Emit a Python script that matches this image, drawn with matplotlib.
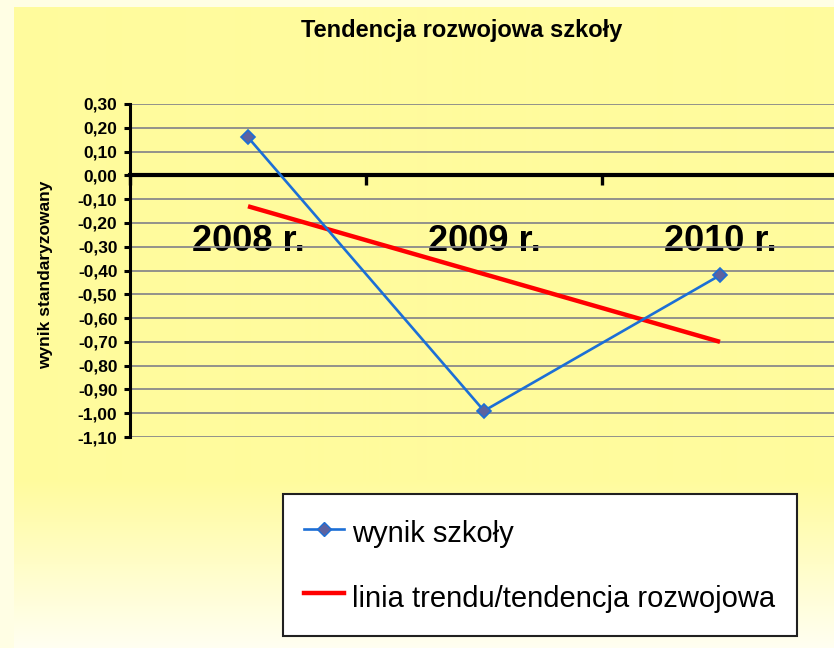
import matplotlib

matplotlib.use("Agg")
import matplotlib.pyplot as plt
import matplotlib.ticker as ticker
import numpy as np
from matplotlib.colors import to_rgb
from matplotlib.lines import Line2D

# ── Data ────────────────────────────────────────────────────────────────────
YEARS = ["2008 r.", "2009 r.", "2010 r."]
SCHOOL_SCORE = [0.16, -0.99, -0.42]
TREND_VALUES = [-0.13, -0.415, -0.70]
Y_TICKS = [0.30, 0.20, 0.10, 0.00, -0.10, -0.20, -0.30, -0.40, -0.50,
           -0.60, -0.70, -0.80, -0.90, -1.00, -1.10]

TITLE = "Tendencja rozwojowa szkoły"
Y_LABEL = "wynik standaryzowany"
LABEL_SCORE = "wynik szkoły"
LABEL_TREND = "linia trendu/tendencja rozwojowa"

# ── Style ───────────────────────────────────────────────────────────────────
BG_OUTER = "#FFFEE4"
BG_YELLOW = "#FFFB9D"
BG_PALE = "#FFFFF2"
COLOR_LINE = "#1C6FD6"
COLOR_MARKER = "#5C62A0"
COLOR_TREND = "#FF0000"
COLOR_GRID = "#8A8A8A"

W, H = 834, 648

plt.rcParams["font.family"] = ["Liberation Sans", "DejaVu Sans"]


def fmt_pl(v, _pos=None):
    v = round(v, 2)
    if v == 0:
        v = 0.0
    return f"{v:.2f}".replace(".", ",")


def main() -> None:
    fig = plt.figure(figsize=(W / 100, H / 100), dpi=100, facecolor=BG_OUTER)

    # chart-area background: yellow fading to pale at the bottom
    bg = fig.add_axes([14 / W, 0, 1 - 14 / W, 1 - 7 / H], zorder=0)
    rows = np.arange(H - 7)
    t = np.clip((rows + 7 - 480) / (H - 480), 0, 1)
    c0, c1 = np.array(to_rgb(BG_YELLOW)), np.array(to_rgb(BG_PALE))
    grad = c0[None, :] * (1 - t[:, None]) + c1[None, :] * t[:, None]
    bg.imshow(grad[:, None, :], aspect="auto", interpolation="bilinear")
    bg.set_axis_off()

    ax = fig.add_axes([130 / W, 1 - 437 / H, 708 / W, 333 / H], zorder=1)
    ax.set_facecolor("none")

    x = np.arange(len(YEARS))
    ax.plot(x, SCHOOL_SCORE, color=COLOR_LINE, linewidth=1.9, marker="D",
            markersize=7.5, markerfacecolor=COLOR_MARKER,
            markeredgecolor=COLOR_LINE, markeredgewidth=1.2, zorder=4,
            clip_on=False)
    ax.plot(x, TREND_VALUES, color=COLOR_TREND, linewidth=3.2, zorder=3,
            solid_capstyle="butt")

    ax.set_xlim(-0.5, 2.5)
    ax.set_ylim(-1.10, 0.30)
    ax.set_yticks(Y_TICKS)
    ax.yaxis.set_major_formatter(ticker.FuncFormatter(fmt_pl))
    ax.grid(True, axis="y", color=COLOR_GRID, linewidth=1.3, zorder=1)
    ax.set_axisbelow(True)

    for side in ("top", "right"):
        ax.spines[side].set_visible(False)
    ax.spines["left"].set_linewidth(2.2)
    ax.spines["bottom"].set_position(("data", 0))
    ax.spines["bottom"].set_linewidth(3.0)
    ax.spines["bottom"].set_zorder(2)

    ax.tick_params(axis="y", direction="out", length=4, width=2.2,
                   labelsize=12.5, pad=5)
    for lab in ax.get_yticklabels():
        lab.set_fontweight("bold")

    # category boundaries as major ticks, names as minor tick labels
    ax.set_xticks([-0.5, 0.5, 1.5, 2.5])
    ax.xaxis.set_major_formatter(ticker.NullFormatter())
    ax.set_xticks(x, minor=True)
    ax.set_xticklabels(YEARS, minor=True)
    ax.tick_params(axis="x", which="major", direction="out", length=7,
                   width=2.4)
    ax.tick_params(axis="x", which="minor", length=0, pad=35, labelsize=26)
    for lab in ax.get_xticklabels(minor=True):
        lab.set_fontweight("bold")

    fig.text(462 / W, 1 - 31 / H, TITLE, ha="center", va="center",
             fontsize=17, fontweight="bold")
    fig.text(46 / W, 1 - 275 / H, Y_LABEL, ha="center", va="center",
             rotation=90, fontsize=12.5, fontweight="bold")

    handles = [
        Line2D([], [], color=COLOR_LINE, linewidth=1.9, marker="D",
               markersize=7.5, markerfacecolor=COLOR_MARKER,
               markeredgecolor=COLOR_LINE),
        Line2D([], [], color=COLOR_TREND, linewidth=3.2),
    ]
    leg = fig.legend(handles, [LABEL_SCORE, LABEL_TREND], loc="upper left",
                     bbox_to_anchor=(283 / W, 1 - 494 / H), fontsize=21,
                     frameon=True, fancybox=False, framealpha=1,
                     facecolor="white", edgecolor="#202020",
                     handlelength=1.35, handletextpad=0.3, handleheight=1.45,
                     labelspacing=1.02, borderpad=0.73, borderaxespad=0,
                     numpoints=1)
    leg.get_frame().set_linewidth(1.5)

    fig.savefig("out.png", dpi=100, facecolor=BG_OUTER)
    plt.close(fig)


if __name__ == "__main__":
    main()
